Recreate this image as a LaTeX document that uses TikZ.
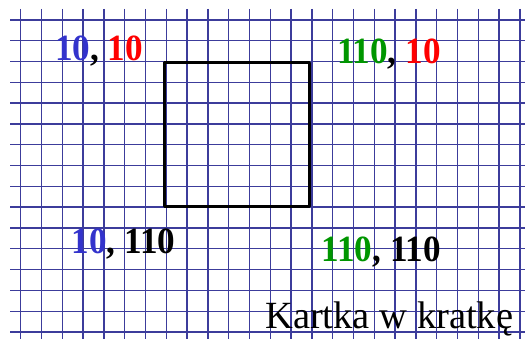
\documentclass[tikz,border=0pt]{standalone}
\usepackage{fontspec}
\setmainfont{Liberation Serif}
\newfontfamily\liczby[FakeStretch=0.95]{Liberation Serif}
\definecolor{kratka}{RGB}{60,60,155}
\definecolor{niebieski}{RGB}{51,51,204}
\definecolor{zielony}{RGB}{0,150,0}
\begin{document}
\begin{tikzpicture}[x=1pt,y=-1pt,line join=round,
	kratka/.style={color=kratka,line width=1.4pt},
	napis/.style={anchor=base west,inner sep=0pt,font=\fontsize{37}{40}\liczby\bfseries}]
		\def\xmin{10} \def\xmax{525}
		\def\ymin{9} \def\ymax{339}
		\useasboundingbox (0,0) rectangle (525,339);
		\fill[white] (0,0) rectangle (525,339);
		% kratki
		\foreach \i in {0,...,24} \draw[kratka] (20.7+20.8*\i,\ymin)--(20.7+20.8*\i,\ymax);
		\foreach \j in {0,...,15} \draw[kratka] (\xmin,20+20.8*\j)--(\xmax,20+20.8*\j);
		\draw[line width=3pt] (164,62.5) rectangle (309,206.5);
		\node[napis] (lg) at (55,60.5) {\textcolor{niebieski}{10}, \textcolor{red}{10}};
		\node[napis] (pg) at (337,63.3) {\textcolor{zielony}{110}, \textcolor{red}{10}};
		\node[napis] (ld) at (71.5,253.3) {\textcolor{niebieski}{10}, 110};
		\node[napis] (pd) at (321.5,261.7) {\textcolor{zielony}{110}, 110};
		\node[napis,font=\fontsize{38.5}{40}\selectfont] (kartka) at (265,328.3) {Kartka w kratkę};
		\end{tikzpicture}
\end{document}
